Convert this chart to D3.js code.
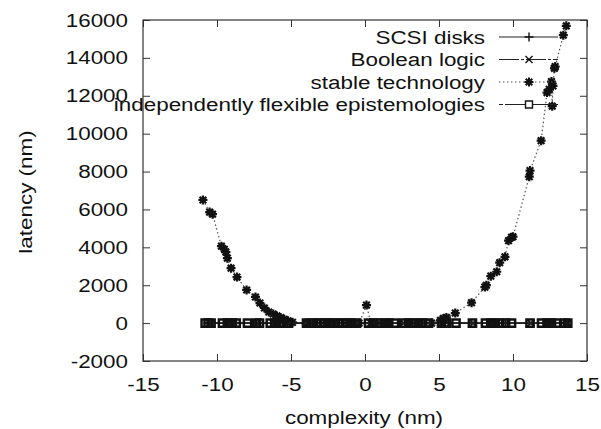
<!DOCTYPE html>
<html>
<head>
<meta charset="utf-8">
<script src="https://cdn.jsdelivr.net/npm/d3@7"></script>
<style>
  body { margin: 0; background: #fff; }
  text { font-family: "Liberation Sans", Arial, Helvetica, sans-serif; fill: #111; }
</style>
</head>
<body>
<div id="chart"></div>
<script>
// tick values
const xTicks = [-15, -10, -5, 0, 5, 10, 15];
const yTicks = [-2000, 0, 2000, 4000, 6000, 8000, 10000, 12000, 14000, 16000];

const seriesNames = ["SCSI disks", "Boolean logic", "stable technology", "independently flexible epistemologies"];

// SCSI disks (+), sits on zero
const scsiX = [-10.6, -9.3, -8.7, -7.1, -5.8, -3.3, -2.4, -1.2, 0.6, 1.6, 2.95, 3.9, 5.4, 8.5, 9.5, 12.3, 13.5];
const scsiY = [0, 0, 0, 0, 0, 0, 0, 0, 0, 0, 0, 0, 0, 0, 0, 0, 0];

// Boolean logic (x), sits on zero
const boolX = [-10.4, -9.0, -7.3, -6.1, -5.2, -3.6, -2.1, -0.9, 0.95, 2.6, 3.6, 5.2, 7.3, 8.8, 11.2, 12.6, 13.7];
const boolY = [0, 0, 0, 0, 0, 0, 0, 0, 0, 0, 0, 0, 0, 0, 0, 0, 0];

// stable technology (star, dotted)
const stableX = [-10.95, -10.5, -10.3, -9.7, -9.5, -9.4, -9.3, -9.05, -8.65, -8.0, -7.4, -7.1, -6.8, -6.5, -6.2, -5.95,
                 -5.7, -5.45, -5.2, -4.9, -4.0, -2.5, -1.0, -0.4, 0.1, 0.4, 1.5, 3.0, 4.5, 5.1, 5.3, 5.5, 6.1, 7.2,
                 8.1, 8.2, 8.5, 8.9, 9.1, 9.46, 9.7, 9.9, 10.0, 11.1, 11.15, 11.9, 12.3, 12.45, 12.6, 12.65, 12.7,
                 12.8, 12.85, 13.4, 13.6];
const stableY = [6500, 5860, 5750, 4060, 3900, 3750, 3430, 2900, 2430, 1750, 1380, 1060, 800, 585, 480, 380,
                 290, 200, 120, 40, 0, 0, 0, 0, 950, 0, 0, 0, 0, 150, 250, 300, 530, 1080,
                 1900, 2000, 2480, 2710, 3190, 3500, 4350, 4530, 4560, 7730, 8050, 9630, 12170, 12340, 12750, 11450, 12520,
                 13450, 13540, 15200, 15690];

// independently flexible epistemologies (square, solid)
const flexX = [-10.8, -10.6, -10.4, -9.63, -9.3, -9.0, -8.7, -7.94, -7.33, -7.13, -6.4, -6.1, -5.8, -5.5, -5.17,
               -3.95, -3.6, -3.3, -3.0, -2.7, -2.4, -2.1, -1.8, -1.5, -1.2, -0.9, -0.57,
               0.24, 0.6, 0.95, 1.3, 1.6, 1.99, 2.6, 2.95, 3.3, 3.6, 3.9, 4.29, 5.17, 5.4, 5.5, 6.15, 7.26,
               8.14, 8.5, 8.8, 9.1, 9.5, 9.9, 11.15, 11.93, 12.3, 12.6, 12.94, 13.5, 13.7];
const flexY = [0, 0, 0, 0, 0, 0, 0, 0, 0, 0, 0, 0, 0, 0, 0,
               0, 0, 0, 0, 0, 0, 0, 0, 0, 0, 0, 0,
               0, 0, 0, 0, 0, 0, 0, 0, 0, 0, 0, 0, 0, 0, 0, 0, 0,
               0, 0, 0, 0, 0, 0, 0, 0, 0, 0, 0, 0, 0];

const W = 601, H = 429;
const SX = 1.18;      // text in the original is stretched sideways
const FS = 19;

const svg = d3.select("#chart").append("svg")
    .attr("width", W)
    .attr("height", H);

const x = d3.scaleLinear().domain([-15, 15]).range([143, 587]);
const y = d3.scaleLinear().domain([-2000, 16000]).range([361, 20]);

// plain numbers, hyphen minus like gnuplot
const fmt = d => String(d);

function styleTicks(g) {
    g.select(".domain").remove();
    g.selectAll(".tick line").attr("stroke", "#333");
}

// bottom axis with labels
svg.append("g")
    .attr("transform", "translate(0,361)")
    .call(d3.axisBottom(x).tickValues(xTicks).tickFormat(fmt).tickSize(-7).tickPadding(17))
    .call(styleTicks)
    .selectAll("text")
    .attr("font-size", FS)
    .attr("font-family", null)
    .attr("transform", "scale(" + SX + ",1)");

// left axis with labels
svg.append("g")
    .attr("transform", "translate(143,0)")
    .call(d3.axisLeft(y).tickValues(yTicks).tickFormat(fmt).tickSize(-7).tickPadding(15))
    .call(styleTicks)
    .selectAll("text")
    .attr("font-size", FS)
    .attr("font-family", null)
    .attr("transform", "scale(" + SX + ",1)")
    .attr("x", -15 / SX);

// mirror ticks
svg.append("g")
    .attr("transform", "translate(0,20)")
    .call(d3.axisTop(x).tickValues(xTicks).tickSize(-7).tickFormat(""))
    .call(styleTicks);
svg.append("g")
    .attr("transform", "translate(587,0)")
    .call(d3.axisRight(y).tickValues(yTicks).tickSize(-7).tickFormat(""))
    .call(styleTicks);

// frame
svg.append("rect")
    .attr("x", 143).attr("y", 20)
    .attr("width", 587 - 143).attr("height", 361 - 20)
    .attr("fill", "none")
    .attr("stroke", "#333")
    .attr("stroke-width", 1.2);

// axis titles
svg.append("text")
    .attr("transform", "translate(364,424) scale(" + SX + ",1)")
    .attr("text-anchor", "middle")
    .attr("font-size", FS)
    .text("complexity (nm)");

svg.append("text")
    .attr("transform", "translate(32,192) rotate(-90) scale(" + SX + ",1)")
    .attr("text-anchor", "middle")
    .attr("font-size", FS)
    .text("latency (nm)");

// marker shapes
function markerPath(type) {
    if (type === "plus") return "M-4.5,0L4.5,0M0,-4.5L0,4.5";
    if (type === "cross") return "M-3.5,-3.5L3.5,3.5M-3.5,3.5L3.5,-3.5";
    if (type === "star") return "M-4.5,0L4.5,0M0,-4.5L0,4.5M-3.3,-3.3L3.3,3.3M-3.3,3.3L3.3,-3.3";
    return "M-3.6,-3.6L3.6,-3.6L3.6,3.6L-3.6,3.6Z";
}

const series = [
    { xs: scsiX, ys: scsiY, marker: "plus", dash: null, color: "#222", width: 1.2 },
    { xs: boolX, ys: boolY, marker: "cross", dash: "20,2,3,2", color: "#222", width: 1.2 },
    { xs: stableX, ys: stableY, marker: "star", dash: "1.5,2.5", color: "#555", width: 1.2 },
    { xs: flexX, ys: flexY, marker: "square", dash: null, color: "#222", width: 1.6 }
];

const line = d3.line().x(d => x(d[0])).y(d => y(d[1]));

series.forEach(function (s) {
    const pts = s.xs.map((v, i) => [v, s.ys[i]]);
    svg.append("path")
        .datum(pts)
        .attr("d", line)
        .attr("fill", "none")
        .attr("stroke", s.color)
        .attr("stroke-width", s.width)
        .attr("stroke-dasharray", s.dash);
    svg.append("g").selectAll("path")
        .data(pts)
        .enter().append("path")
        .attr("transform", d => "translate(" + x(d[0]) + "," + y(d[1]) + ")")
        .attr("d", markerPath(s.marker))
        .attr("fill", "none")
        .attr("stroke", "#111")
        .attr("stroke-width", s.marker === "star" ? 2.2 : (s.marker === "square" ? 2.5 : 2));
});

// legend
const legendY = [37, 59.5, 82, 104.5];
series.forEach(function (s, i) {
    const ly = legendY[i];
    svg.append("text")
        .attr("transform", "translate(485," + ly + ") scale(" + SX + ",1)")
        .attr("text-anchor", "end")
        .attr("dy", "0.35em")
        .attr("font-size", FS)
        .text(seriesNames[i]);
    svg.append("line")
        .attr("x1", 499).attr("x2", 558)
        .attr("y1", ly).attr("y2", ly)
        .attr("stroke", s.color)
        .attr("stroke-width", 1.2)
        .attr("stroke-dasharray", i === 3 ? "4,2,200" : s.dash);
    svg.append("path")
        .attr("transform", "translate(529," + ly + ")")
        .attr("d", i === 3 ? "M-3.5,-3.5L3.5,-3.5L3.5,3.5L-3.5,3.5Z" : markerPath(s.marker))
        .attr("fill", i === 3 ? "#fff" : "none")
        .attr("stroke", "#111")
        .attr("stroke-width", i === 2 ? 2 : 1.4);
});
</script>
</body>
</html>
